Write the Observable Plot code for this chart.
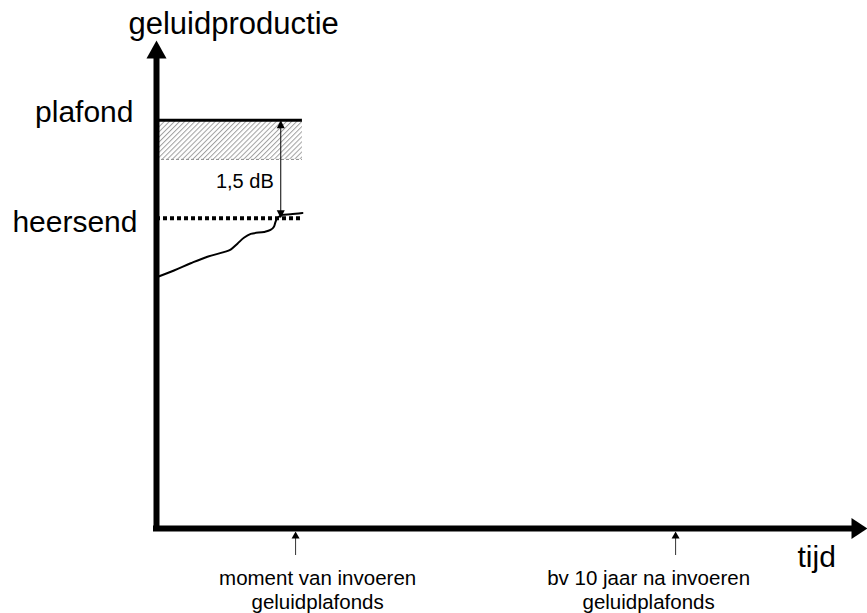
<!DOCTYPE html>
<html>
<head>
<meta charset="utf-8">
<script src="https://cdn.jsdelivr.net/npm/d3@7"></script>
<script src="https://cdn.jsdelivr.net/npm/@observablehq/plot@0.6"></script>
<style>
  html, body { margin: 0; padding: 0; background: #fff; }
  #chart svg { display: block; }
</style>
</head>
<body>
<div id="chart"></div>
<script>
// ---- data ----
// x: years relative to the introduction of the noise ceiling; y: dB relative to the ceiling
const xDomain = [-3.66, 15.05];
const yDomain = [-6.25, 1.22];

const curveYears = [-3.64, -3.20, -2.76, -2.32, -1.89, -1.71, -1.53, -1.36, -1.18, -0.83, -0.66, -0.57, -0.53, -0.48, -0.35, -0.13, 0.18];
const curveDb    = [-2.40, -2.30, -2.19, -2.09, -2.02, -1.98, -1.89, -1.80, -1.74, -1.71, -1.68, -1.63, -1.56, -1.50, -1.45, -1.44, -1.42];

const plafondDb = 0;
const heersendDb = -1.5;
const hatchBottomDb = -0.6;
const linesEndYear = 0.18;
const gapArrowYear = -0.39;
const gapLabel = "1,5 dB";

const tickYears = [0, 10];
const tickLabelYears = [0.58, 9.29];
const tickLabels = ["moment van invoeren\ngeluidplafonds", "bv 10 jaar na invoeren\ngeluidplafonds"];

const yTitle = "geluidproductie";
const xTitle = "tijd";
const levelNames = ["plafond", "heersend"];
const levelValues = [plafondDb, heersendDb];

// ---- custom arrowhead symbols (tip at the anchor point) ----
function arrowHead(dir, len, half) {
  return {
    draw(ctx) {
      if (dir === "up") { ctx.moveTo(0, 0); ctx.lineTo(-half, len); ctx.lineTo(half, len); }
      else if (dir === "down") { ctx.moveTo(0, 0); ctx.lineTo(-half, -len); ctx.lineTo(half, -len); }
      else if (dir === "right") { ctx.moveTo(0, 0); ctx.lineTo(-len, -half); ctx.lineTo(-len, half); }
      ctx.closePath();
    }
  };
}

const font = "'Liberation Sans', Arial, Helvetica, sans-serif";

const chart = Plot.plot({
  width: 867,
  height: 613,
  marginLeft: 156,
  marginRight: 0,
  marginTop: 40,
  marginBottom: 85,
  x: { domain: xDomain, axis: null },
  y: { domain: yDomain, axis: null },
  style: { fontFamily: font, background: "white", color: "black", overflow: "visible" },
  marks: [
    // hatched margin band below the ceiling
    Plot.rect([{ top: plafondDb, bottom: hatchBottomDb }], {
      x1: xDomain[0], x2: linesEndYear, y1: "bottom", y2: "top", fill: "url(#hatch)"
    }),
    // thin dashed lower edge of band
    Plot.ruleY([hatchBottomDb], { x1: xDomain[0], x2: linesEndYear, stroke: "#888", strokeWidth: 1, strokeDasharray: "3,2" }),
    // ceiling line
    Plot.ruleY([plafondDb], { x1: xDomain[0], x2: linesEndYear, stroke: "black", strokeWidth: 3 }),
    // prevailing level (dotted)
    Plot.ruleY([heersendDb], { x1: xDomain[0], x2: linesEndYear, stroke: "black", strokeWidth: 4, strokeDasharray: "4,3" }),
    // noise production curve
    Plot.line(curveYears.map((x, i) => ({ x, y: curveDb[i] })), {
      x: "x", y: "y", curve: "catmull-rom", stroke: "black", strokeWidth: 2
    }),
    // 1,5 dB double arrow
    Plot.ruleX([gapArrowYear], { y1: plafondDb, y2: heersendDb, insetTop: 5, insetBottom: 5, stroke: "black", strokeWidth: 1 }),
    Plot.dot([gapArrowYear], { x: d => d, y: plafondDb, symbol: arrowHead("up", 8, 4), r: 4, fill: "black", stroke: "none" }),
    Plot.dot([gapArrowYear], { x: d => d, y: heersendDb, symbol: arrowHead("down", 8, 4), r: 4, fill: "black", stroke: "none" }),
    Plot.text([gapLabel], { x: gapArrowYear, y: (plafondDb + heersendDb) / 2, text: d => d, textAnchor: "end", dx: -7, dy: 12, fontSize: 20, fill: "black" }),
    // axes
    Plot.ruleX([xDomain[0]], { insetTop: 14, insetBottom: -3, stroke: "black", strokeWidth: 6 }),
    Plot.ruleY([yDomain[0]], { insetLeft: -3, insetRight: 12, stroke: "black", strokeWidth: 6 }),
    Plot.dot([0], { x: xDomain[0], y: yDomain[1], symbol: arrowHead("up", 18, 10), r: 8, fill: "black", stroke: "none" }),
    Plot.dot([0], { x: xDomain[1], y: yDomain[0], symbol: arrowHead("right", 16, 10.5), r: 8, fill: "black", stroke: "none" }),
    // tick pointers below the x axis
    Plot.ruleX(tickYears, { x: d => d, insetTop: 497, insetBottom: -27, stroke: "#333", strokeWidth: 1 }),
    Plot.dot(tickYears, { x: d => d, y: yDomain[0], dy: 3, symbol: arrowHead("up", 7, 4), r: 4, fill: "black", stroke: "none" }),
    Plot.text(tickLabels, { x: (d, i) => tickLabelYears[i], y: yDomain[0], text: d => d, lineAnchor: "top", dy: 39, lineHeight: 1.17, fontSize: 20.5, fill: "black" }),
    // titles and level names
    Plot.text([yTitle], { x: xDomain[0], y: yDomain[1], text: d => d, textAnchor: "start", dx: -28, dy: -16.9, fontSize: 31, fill: "black" }),
    Plot.text([xTitle], { x: xDomain[1], y: yDomain[0], text: d => d, textAnchor: "start", dx: -70, dy: 28.4, fontSize: 30, fill: "black" }),
    Plot.text([levelNames[0]], { x: xDomain[0], y: levelValues[0], text: d => d, textAnchor: "end", dx: -23, dy: -7.6, fontSize: 30, fill: "black" }),
    Plot.text([levelNames[1]], { x: xDomain[0], y: levelValues[1], text: d => d, textAnchor: "end", dx: -19, dy: 4.4, fontSize: 30, fill: "black" })
  ]
});

// hatch pattern definition
const svg = d3.select(chart);
const defs = svg.insert("defs", ":first-child");
const pat = defs.append("pattern")
  .attr("id", "hatch")
  .attr("patternUnits", "userSpaceOnUse")
  .attr("width", 3.6)
  .attr("height", 3.6)
  .attr("patternTransform", "rotate(45)");
pat.append("rect").attr("width", 3.6).attr("height", 3.6).attr("fill", "white");
pat.append("line").attr("x1", 0.5).attr("y1", 0).attr("x2", 0.5).attr("y2", 3.6)
  .attr("stroke", "#a0a0a0").attr("stroke-width", 1);

document.getElementById("chart").appendChild(chart);
</script>
</body>
</html>
